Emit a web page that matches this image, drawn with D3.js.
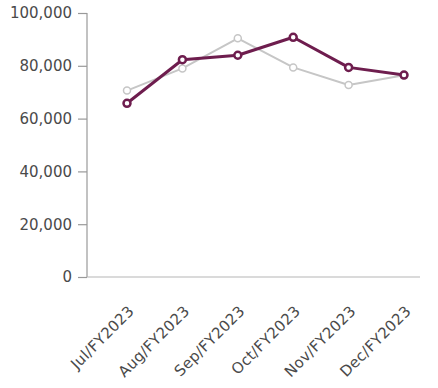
<!DOCTYPE html>
<html>
<head>
<meta charset="utf-8">
<script src="https://cdn.jsdelivr.net/npm/d3@7"></script>
<style>
  body { margin: 0; background: #fff; }
  text { font-family: "DejaVu Sans", sans-serif; }
</style>
</head>
<body>
<div id="chart"></div>
<script>
// data
var months = ["Jul/FY2023", "Aug/FY2023", "Sep/FY2023", "Oct/FY2023", "Nov/FY2023", "Dec/FY2023"];
var current = [65800, 82300, 84000, 90800, 79400, 76500];
var previous = [70600, 79000, 90400, 79400, 72700, 76400];
var yTicks = [0, 20000, 40000, 60000, 80000, 100000];

var width = 438,
    height = 388,
    padding = { top: 13, right: 18, bottom: 111, left: 87 };

var svg = d3.select("#chart")
    .append("svg")
    .attr("width", width)
    .attr("height", height);

var xScale = d3.scalePoint()
    .domain(months)
    .range([127, 404]);

var yScale = d3.scaleLinear()
    .domain([0, 100000])
    .range([height - padding.bottom, padding.top]);

// y axis
var yAxis = d3.axisLeft(yScale)
    .tickValues(yTicks)
    .tickSize(9)
    .tickPadding(6)
    .tickFormat(d3.format(","));
var gy = svg.append("g")
    .attr("transform", "translate(" + padding.left + ",0)")
    .call(yAxis);
gy.select(".domain").remove();
gy.append("line")
    .attr("x1", 0).attr("x2", 0)
    .attr("y1", yScale(100000)).attr("y2", yScale(0))
    .attr("stroke", "#999").attr("stroke-width", 1.2);
gy.selectAll(".tick line").attr("stroke", "#999").attr("stroke-width", 1.2);
gy.selectAll(".tick text")
    .attr("fill", "#4a4a4a")
    .attr("font-size", "15px")
    .attr("font-family", "DejaVu Sans, sans-serif");

// x axis
svg.append("line")
    .attr("x1", padding.left).attr("x2", width - padding.right)
    .attr("y1", yScale(0)).attr("y2", yScale(0))
    .attr("stroke", "#b5b5b5").attr("stroke-width", 1.2);

svg.selectAll(".xlabel")
    .data(months)
    .enter().append("text")
    .attr("class", "xlabel")
    .attr("transform", function(d) {
        return "translate(" + (xScale(d) + 8) + "," + (yScale(0) + 35) + ") rotate(-45)";
    })
    .attr("text-anchor", "end")
    .attr("font-size", "15px")
    .attr("letter-spacing", "0.3px")
    .attr("fill", "#4a4a4a")
    .text(function(d) { return d; });

var line = d3.line()
    .x(function(d, i) { return xScale(months[i]); })
    .y(function(d) { return yScale(d); });

function drawSeries(data, color, lw) {
    svg.append("path")
        .datum(data)
        .attr("fill", "none")
        .attr("stroke", color)
        .attr("stroke-width", lw)
        .attr("stroke-linejoin", "round")
        .attr("d", line);
    svg.selectAll(null)
        .data(data)
        .enter().append("circle")
        .attr("cx", function(d, i) { return xScale(months[i]); })
        .attr("cy", function(d) { return yScale(d); })
        .attr("r", 3.5)
        .attr("fill", "#fff")
        .attr("stroke", color)
        .attr("stroke-width", lw - 0.5);
}

drawSeries(previous, "#c6c6c6", 2);
drawSeries(current, "#6e1d4e", 3);
</script>
</body>
</html>
